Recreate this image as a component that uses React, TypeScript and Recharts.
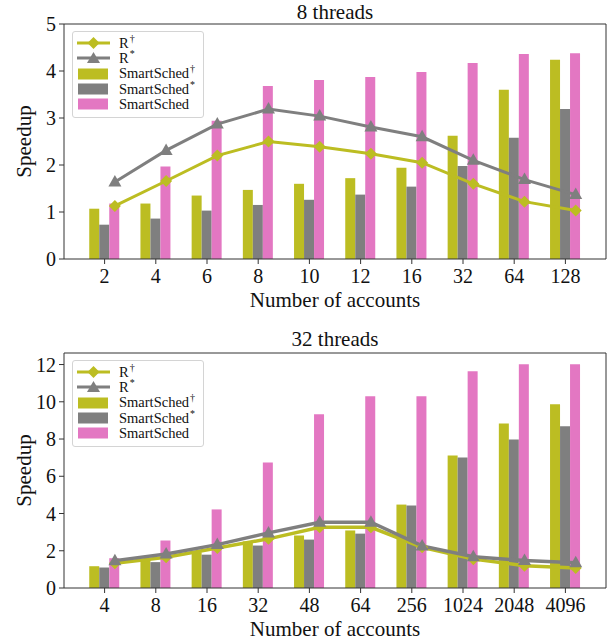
import React from 'react';
import { ComposedChart, Bar, Line, XAxis, YAxis, Legend } from 'recharts';

// 8 threads
const accounts8 = ['2', '4', '6', '8', '10', '12', '16', '32', '64', '128'];
const smartDagger8 = [1.07, 1.18, 1.35, 1.47, 1.6, 1.72, 1.94, 2.62, 3.6, 4.24];
const smartStar8 = [0.73, 0.86, 1.03, 1.15, 1.26, 1.37, 1.54, 1.98, 2.58, 3.19];
const smart8 = [1.18, 1.97, 2.94, 3.68, 3.81, 3.87, 3.98, 4.17, 4.36, 4.38];
const rDagger8 = [1.13, 1.66, 2.2, 2.5, 2.39, 2.24, 2.05, 1.6, 1.22, 1.03];
const rStar8 = [1.64, 2.31, 2.87, 3.19, 3.04, 2.81, 2.6, 2.1, 1.69, 1.37];

// 32 threads
const accounts32 = ['4', '8', '16', '32', '48', '64', '256', '1024', '2048', '4096'];
const smartDagger32 = [1.17, 1.5, 1.92, 2.5, 2.82, 3.09, 4.48, 7.12, 8.84, 9.87];
const smartStar32 = [1.1, 1.39, 1.79, 2.28, 2.6, 2.92, 4.43, 7.01, 7.98, 8.68];
const smart32 = [1.6, 2.55, 4.22, 6.74, 9.33, 10.3, 10.3, 11.64, 12.02, 12.02];
const rDagger32 = [1.33, 1.65, 2.15, 2.64, 3.26, 3.26, 2.19, 1.55, 1.2, 1.08];
const rStar32 = [1.47, 1.83, 2.33, 2.96, 3.53, 3.53, 2.26, 1.68, 1.48, 1.36];

const ticks8 = [0, 1, 2, 3, 4, 5];
const ticks32 = [0, 1, 2, 4, 6, 8, 10, 12];

const OLIVE = '#bcbd22';
const GRAY = '#7f7f7f';
const PINK = '#e377c2';
const AXIS = '#333';
const FONT = '"Liberation Serif", "Times New Roman", Times, serif';

const build = (cats: string[], a: number[], b: number[], c: number[], d: number[], e: number[]) =>
  cats.map((name, i) => ({ name, sd: a[i], ss: b[i], s: c[i], rd: d[i], rs: e[i] }));

const data8 = build(accounts8, smartDagger8, smartStar8, smart8, rDagger8, rStar8);
const data32 = build(accounts32, smartDagger32, smartStar32, smart32, rDagger32, rStar32);

const Diamond = (p: any) => {
  const { cx, cy } = p;
  if (cx == null || cy == null) return <g key={`d-${p.index}`} />;
  const r = 6;
  return <path key={`d-${p.index}`} d={`M${cx},${cy - r}L${cx + r},${cy}L${cx},${cy + r}L${cx - r},${cy}Z`} fill={OLIVE} />;
};

const Triangle = (p: any) => {
  const { cx, cy } = p;
  if (cx == null || cy == null) return <g key={`t-${p.index}`} />;
  return <path key={`t-${p.index}`} d={`M${cx},${cy - 7}L${cx + 6.5},${cy + 4.5}L${cx - 6.5},${cy + 4.5}Z`} fill={GRAY} />;
};

const sup = { fontSize: 10, verticalAlign: 'super', lineHeight: 0, marginLeft: 1 } as const;

const legendRows = [
  { kind: 'line', color: OLIVE, label: 'R', mark: '†', marker: 'd' },
  { kind: 'line', color: GRAY, label: 'R', mark: '*', marker: 't' },
  { kind: 'bar', color: OLIVE, label: 'SmartSched', mark: '†' },
  { kind: 'bar', color: GRAY, label: 'SmartSched', mark: '*' },
  { kind: 'bar', color: PINK, label: 'SmartSched', mark: '' },
];

const LegendBox = () => (
  <div
    style={{
      width: 130,
      height: 81.5,
      border: '1px solid #d4d4d4',
      borderRadius: 3,
      background: 'rgba(255,255,255,0.8)',
      fontFamily: FONT,
      fontSize: 14.5,
      color: '#111',
      paddingTop: 3.5,
      boxSizing: 'content-box',
    }}
  >
    {legendRows.map((r, i) => (
      <div key={i} style={{ display: 'flex', alignItems: 'center', height: 15.3 }}>
        <svg width={33} height={14} style={{ marginLeft: 4, marginRight: 9, flex: 'none' }}>
          {r.kind === 'line' ? (
            <g>
              <line x1={0} x2={33} y1={7} y2={7} stroke={r.color} strokeWidth={3} />
              {r.marker === 'd' ? (
                <path d="M16.5,1L22.5,7L16.5,13L10.5,7Z" fill={r.color} />
              ) : (
                <path d="M16.5,1L23,12L10,12Z" fill={r.color} />
              )}
            </g>
          ) : (
            <rect x={1} y={1.5} width={30} height={11} fill={r.color} />
          )}
        </svg>
        <span style={{ lineHeight: '15px', whiteSpace: 'nowrap' }}>
          {r.label}
          {r.mark && <span style={sup}>{r.mark}</span>}
        </span>
      </div>
    ))}
  </div>
);

const tickStyle = { fontFamily: FONT, fontSize: 20, fill: '#111' };

interface PanelProps {
  data: any[];
  title: string;
  titleTop: number;
  ticks: number[];
  domain: [number, number];
  top: number;
  lineWidth: number;
}

const Panel: React.FC<PanelProps> = ({ data, title, titleTop, ticks, domain, top, lineWidth }) => {
  const height = 320;
  return (
    <div style={{ position: 'relative', width: 615, height }}>
      <div
        style={{
          position: 'absolute',
          left: 64,
          width: 542,
          top: titleTop,
          textAlign: 'center',
          fontFamily: FONT,
          fontSize: 21,
          lineHeight: '20px',
          color: '#111',
          zIndex: 1,
        }}
      >
        {title}
      </div>
      <ComposedChart
        width={615}
        height={height}
        data={data}
        style={{ fontFamily: FONT }}
        margin={{ top: top - 1, right: 8, left: 0, bottom: height - top - 235 - 52 }}
        barCategoryGap="20%"
        barGap={0}
      >
        <XAxis
          xAxisId="main"
          dataKey="name"
          height={52}
          padding={{ left: 15, right: 15 }}
          tick={tickStyle}
          tickSize={5}
          tickMargin={5}
          stroke={AXIS}
          tickLine={{ stroke: AXIS }}
          label={{ value: 'Number of accounts', position: 'insideBottom', offset: 4, style: { ...tickStyle, fontSize: 21 } }}
        />
        <XAxis xAxisId="line" dataKey="name" hide height={0} padding={{ left: 25.3, right: 4.7 }} />
        <XAxis xAxisId="top" orientation="top" height={1} tick={false} tickLine={false} stroke={AXIS} />
        <YAxis
          domain={domain}
          ticks={ticks}
          width={64}
          tick={tickStyle}
          tickSize={5}
          tickMargin={3}
          stroke={AXIS}
          allowDataOverflow
          label={{
            value: 'Speedup',
            angle: -90,
            position: 'insideLeft',
            offset: 24,
            style: { ...tickStyle, fontSize: 21, textAnchor: 'middle' },
          }}
        />
        <YAxis yAxisId="frame" orientation="right" width={1} tick={false} tickLine={false} stroke={AXIS} />
        <Legend
          layout="vertical"
          align="center"
          verticalAlign="middle"
          content={() => <LegendBox />}
          wrapperStyle={{ left: 72, top: top + 7, width: 'auto', height: 'auto' }}
        />
        <Bar xAxisId="main" dataKey="sd" name="SmartSched†" fill={OLIVE} isAnimationActive={false} />
        <Bar xAxisId="main" dataKey="ss" name="SmartSched*" fill={GRAY} isAnimationActive={false} />
        <Bar xAxisId="main" dataKey="s" name="SmartSched" fill={PINK} isAnimationActive={false} />
        <Line
          xAxisId="line"
          dataKey="rd"
          name="R†"
          stroke={OLIVE}
          strokeWidth={lineWidth}
          dot={Diamond}
          activeDot={false}
          isAnimationActive={false}
        />
        <Line
          xAxisId="line"
          dataKey="rs"
          name="R*"
          stroke={GRAY}
          strokeWidth={lineWidth}
          dot={Triangle}
          activeDot={false}
          isAnimationActive={false}
        />
      </ComposedChart>
    </div>
  );
}

export default function App() {
  return (
    <div style={{ position: 'absolute', left: 0, top: 0, width: 615, height: 640, background: '#fff' }}>
      <Panel data={data8} title="8 threads" titleTop={2} ticks={ticks8} domain={[0, 5]} top={24} lineWidth={3} />
      <Panel data={data32} title="32 threads" titleTop={9} ticks={ticks32} domain={[0, 12.62]} top={33} lineWidth={3.5} />
    </div>
  );
}
